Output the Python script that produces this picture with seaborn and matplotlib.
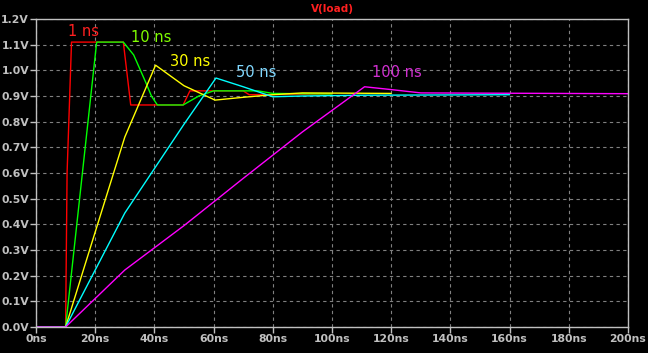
import pandas as pd
import matplotlib
matplotlib.use("Agg")
import matplotlib.pyplot as plt
import seaborn as sns

# breakpoints (time in ns, volts)
red_t = [0, 10, 10.5, 12, 29.5, 32, 49.7, 52, 70, 72, 100]
red_v = [0, 0, 0.6, 1.11, 1.11, 0.865, 0.865, 0.92, 0.92, 0.905, 0.908]

green_t = [0, 10, 20.5, 29.5, 33, 37, 39, 41, 49.7, 55, 60, 75, 80, 100]
green_v = [0, 0, 1.11, 1.11, 1.06, 0.955, 0.9, 0.865, 0.865, 0.9, 0.92, 0.92, 0.91, 0.908]

yellow_t = [0, 10, 30, 40.4, 50, 60.5, 70, 80, 90, 120]
yellow_v = [0, 0, 0.74, 1.02, 0.94, 0.884, 0.895, 0.905, 0.912, 0.91]

cyan_t = [0, 10, 30, 50, 60.8, 70, 80, 90, 110, 160]
cyan_v = [0, 0, 0.444, 0.79, 0.97, 0.936, 0.897, 0.9, 0.903, 0.905]

magenta_t = [0, 10, 30, 50, 70, 90, 111, 120, 130, 200]
magenta_v = [0, 0, 0.222, 0.395, 0.579, 0.76, 0.936, 0.925, 0.912, 0.909]

labels = ['1 ns', '10 ns', '30 ns', '50 ns', '100 ns']
label_t = [16.2, 38.9, 52.0, 74.3, 122.0]
label_v = [1.15, 1.126, 1.036, 0.993, 0.993]

x_ticks = list(range(0, 201, 20))
y_ticks = [i / 10 for i in range(0, 13)]

series = [
    (red_t, red_v, '#ff0000'),
    (green_t, green_v, '#00ff00'),
    (yellow_t, yellow_v, '#ffff00'),
    (cyan_t, cyan_v, '#00ffff'),
    (magenta_t, magenta_v, '#ff00ff'),
]
label_colors = ['#ff2020', '#80ff00', '#ffff00', '#80d8ff', '#d030d0']

sns.set_style('dark', {'axes.facecolor': 'black', 'figure.facecolor': 'black'})
plt.rcParams['font.family'] = ['DejaVu Sans']

fig = plt.figure(figsize=(6.48, 3.53), dpi=100)
ax = fig.add_axes([36 / 648, 26 / 353, 592 / 648, 308 / 353])
ax.set_facecolor('black')

for t, v, c in series:
    df = pd.DataFrame({'t': t, 'v': v})
    sns.lineplot(data=df, x='t', y='v', color=c, lw=1, estimator=None,
                 sort=False, ax=ax)

for txt, t, v, c in zip(labels, label_t, label_v, label_colors):
    ax.text(t, v, txt, color=c, fontsize=10.5, ha='center', va='center')

ax.set_xlim(0, 200)
ax.set_ylim(0, 1.2)
ax.set_xticks(x_ticks)
ax.set_xticklabels([f'{t}ns' for t in x_ticks])
ax.set_yticks(y_ticks)
ax.set_yticklabels([f'{v:.1f}V' for v in y_ticks])
ax.set_xlabel('')
ax.set_ylabel('')
ax.grid(True, color='#808080', linestyle=(0, (3, 3)), lw=0.8)
ax.tick_params(colors='#c0c0c0', labelcolor='#c0c0c0', length=4, width=1,
               direction='out', labelsize=7.8, pad=1, bottom=True, left=True)
for lab in ax.get_xticklabels() + ax.get_yticklabels():
    lab.set_fontweight('bold')
for s in ax.spines.values():
    s.set_color('#c0c0c0')
    s.set_linewidth(1)

fig.text(332 / 648, 1 - 9 / 353, 'V(load)', color='#ff2020', fontsize=7.5,
         fontweight='bold', ha='center', va='center')

fig.savefig('out.png', dpi=100, facecolor='black')
